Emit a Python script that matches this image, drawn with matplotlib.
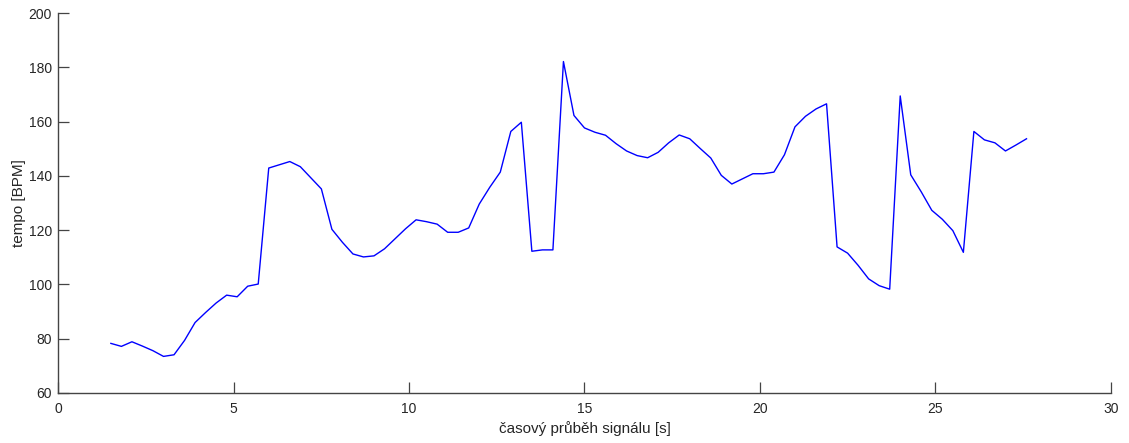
import matplotlib
matplotlib.use('Agg')
import matplotlib.pyplot as plt

plt.rcParams['font.family'] = ['Liberation Sans', 'DejaVu Sans']

cas = [
    1.5, 1.8, 2.1, 2.4, 2.7, 3.0, 3.3, 3.6, 3.9, 4.2,
    4.5, 4.8, 5.1, 5.4, 5.7, 6.0, 6.3, 6.6, 6.9, 7.2,
    7.5, 7.8, 8.1, 8.4, 8.7, 9.0, 9.3, 9.6, 9.9, 10.2,
    10.5, 10.8, 11.1, 11.4, 11.7, 12.0, 12.3, 12.6, 12.9, 13.2,
    13.5, 13.8, 14.1, 14.4, 14.7, 15.0, 15.3, 15.6, 15.9, 16.2,
    16.5, 16.8, 17.1, 17.4, 17.7, 18.0, 18.3, 18.6, 18.9, 19.2,
    19.5, 19.8, 20.1, 20.4, 20.7, 21.0, 21.3, 21.6, 21.9, 22.2,
    22.5, 22.8, 23.1, 23.4, 23.7, 24.0, 24.3, 24.6, 24.9, 25.2,
    25.5, 25.8, 26.1, 26.4, 26.7, 27.0, 27.3, 27.6,
]
tempo = [
    78.2, 77.1, 78.8, 77.2, 75.5, 73.4, 74.0, 79.3, 85.9, 89.6,
    93.1, 96.0, 95.4, 99.3, 100.1, 142.9, 144.1, 145.3, 143.4, 139.3,
    135.2, 120.3, 115.5, 111.2, 110.1, 110.5, 113.1, 116.8, 120.5, 123.8,
    123.1, 122.2, 119.2, 119.2, 120.8, 129.6, 135.8, 141.4, 156.4, 159.8,
    112.2, 112.7, 112.7, 182.2, 162.3, 157.7, 156.1, 155.0, 151.9, 149.2,
    147.5, 146.7, 148.7, 152.2, 155.1, 153.7, 150.1, 146.6, 140.2, 137.0,
    138.9, 140.8, 140.8, 141.4, 147.8, 158.1, 162.0, 164.7, 166.6, 113.8,
    111.5, 107.0, 102.0, 99.5, 98.2, 169.5, 140.4, 134.1, 127.3, 124.0,
    119.8, 111.8, 156.4, 153.3, 152.2, 149.2, 151.4, 153.7,
]

fig = plt.figure(figsize=(11.29, 4.43), dpi=100)
ax = fig.add_axes([0.0516, 0.1135, 0.9322, 0.8565])

ax.plot(cas, tempo, color='#0000ff', linewidth=1.0)

ax.set_xlim(0, 30)
ax.set_ylim(60, 200)
ax.set_xticks(range(0, 31, 5))
ax.set_yticks(range(60, 201, 20))

for s in ['top', 'right']:
    ax.spines[s].set_visible(False)
for s in ['left', 'bottom']:
    ax.spines[s].set_color('#444444')
    ax.spines[s].set_linewidth(1.0)

ax.tick_params(direction='in', length=8, width=0.9, color='#444444',
               labelcolor='#262626', labelsize=10)
ax.tick_params(axis='y', pad=4.5)
ax.tick_params(axis='x', pad=6.5)

ax.set_xlabel('časový průběh signálu [s]', fontsize=11, color='#262626', labelpad=4)
ax.set_ylabel('tempo [BPM]', fontsize=11, color='#262626', labelpad=2)

fig.savefig('out.png', dpi=100)
